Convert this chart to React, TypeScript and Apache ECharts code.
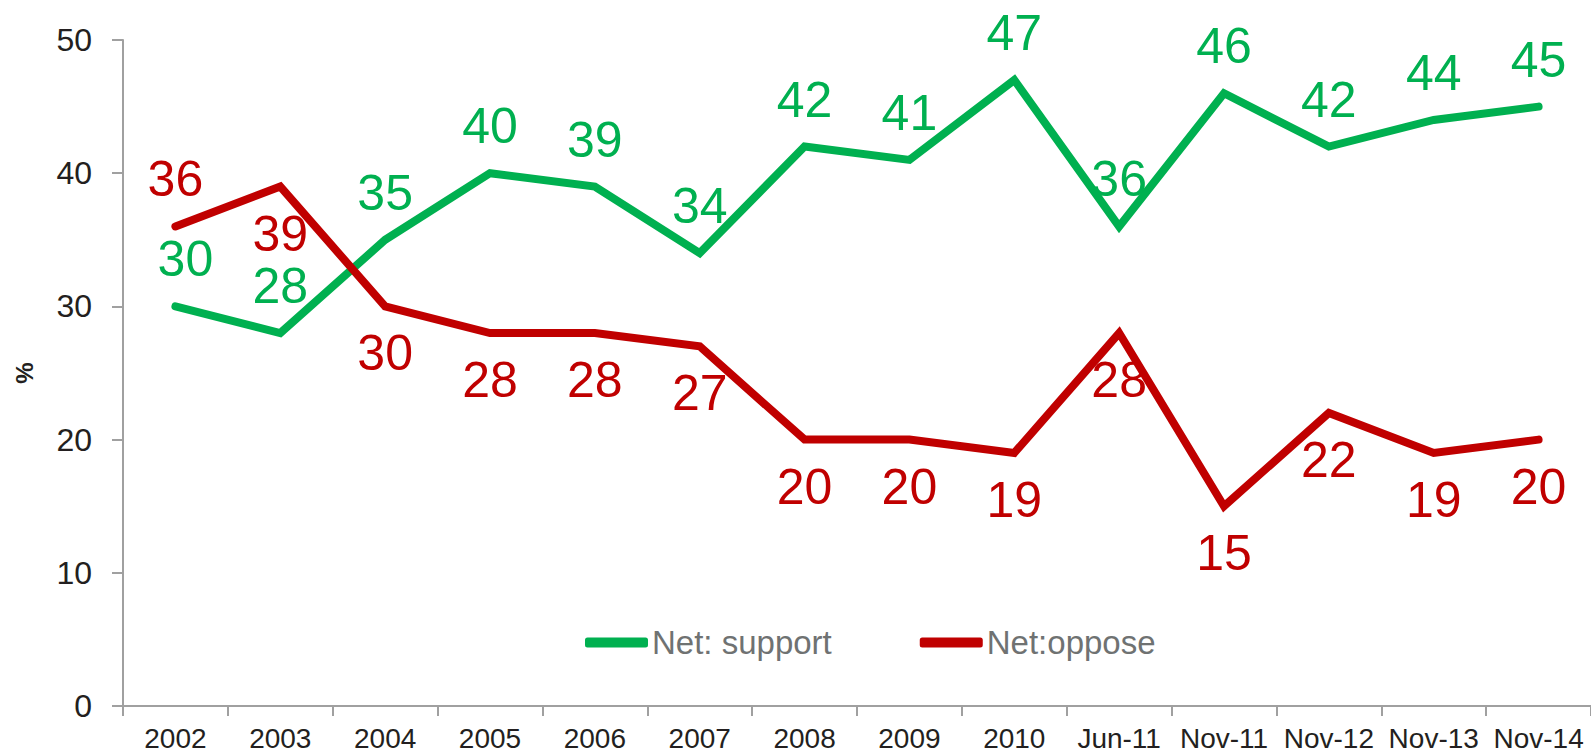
import React, { useEffect, useRef } from "react";
import * as echarts from "echarts";

const categories = ["2002", "2003", "2004", "2005", "2006", "2007", "2008", "2009", "2010", "Jun-11", "Nov-11", "Nov-12", "Nov-13", "Nov-14"];
const supportValues = [30, 28, 35, 40, 39, 34, 42, 41, 47, 36, 46, 42, 44, 45];
const opposeValues = [36, 39, 30, 28, 28, 27, 20, 20, 19, 28, 15, 22, 19, 20];
const opposeLabelAbove = [true, false, false, false, false, false, false, false, false, false, false, false, false, false];
const yTicks = [0, 10, 20, 30, 40, 50];

const GREEN = "#00b050";
const RED = "#c00000";
const FONT = "Liberation Sans, Arial, sans-serif";

export default function App() {
  const ref = useRef<HTMLDivElement>(null);
  useEffect(() => {
    if (!ref.current) return;
    const chart = echarts.init(ref.current, undefined, { renderer: "svg" });
    chart.setOption({
      animation: false,
      textStyle: { fontFamily: FONT },
      grid: { left: 123, right: 0, top: 40, bottom: 46, containLabel: false },
      legend: {
        left: 580,
        top: 621,
        itemWidth: 63,
        itemHeight: 10,
        itemGap: 88,
        icon: "roundRect",
        textStyle: { fontSize: 33, color: "#6f7272", fontFamily: FONT, padding: [0, 0, 0, -1] },
        data: ["Net: support", "Net:oppose"],
      },
      xAxis: {
        type: "category",
        data: categories,
        boundaryGap: true,
        axisLine: { lineStyle: { color: "#a0a0a0", width: 2 } },
        axisTick: { show: true, length: 10, lineStyle: { color: "#a0a0a0", width: 2 } },
        axisLabel: { fontSize: 28, color: "#231f20", margin: 18, interval: 0 },
      },
      yAxis: {
        type: "value",
        min: yTicks[0],
        max: yTicks[yTicks.length - 1],
        interval: 10,
        name: "%",
        nameLocation: "middle",
        nameRotate: 90,
        nameGap: 87,
        nameTextStyle: { fontSize: 24, fontWeight: "bold", color: "#231f20" },
        splitLine: { show: false },
        axisLine: { show: true, lineStyle: { color: "#a0a0a0", width: 2 } },
        axisTick: { show: true, length: 11, lineStyle: { color: "#a0a0a0", width: 2 } },
        axisLabel: { fontSize: 32, color: "#231f20", margin: 31 },
      },
      series: [
        {
          name: "Net: support",
          type: "line",
          data: supportValues,
          symbol: "circle",
          symbolSize: 0,
          showSymbol: true,
          lineStyle: { color: GREEN, width: 8, cap: "round", join: "miter" },
          itemStyle: { color: GREEN },
          label: { show: true, position: "top", distance: 22, fontSize: 50, color: GREEN },
          labelLayout: (p: any) => (p.dataIndex === 0 ? { dx: 10, hideOverlap: false } : { hideOverlap: false }),
        },
        {
          name: "Net:oppose",
          type: "line",
          data: opposeValues.map((v, i) => ({
            value: v,
            label: { position: opposeLabelAbove[i] ? "top" : "bottom" },
          })),
          symbol: "circle",
          symbolSize: 0,
          showSymbol: true,
          lineStyle: { color: RED, width: 8, cap: "round", join: "miter" },
          itemStyle: { color: RED },
          label: { show: true, position: "bottom", distance: 22, fontSize: 50, color: RED },
          labelLayout: { hideOverlap: false },
        },
      ],
    });
    return () => chart.dispose();
  }, []);
  return (
    <div
      ref={ref}
      style={{ position: "fixed", left: 0, top: 0, width: 1591, height: 752, background: "#fff" }}
    />
  );
}
